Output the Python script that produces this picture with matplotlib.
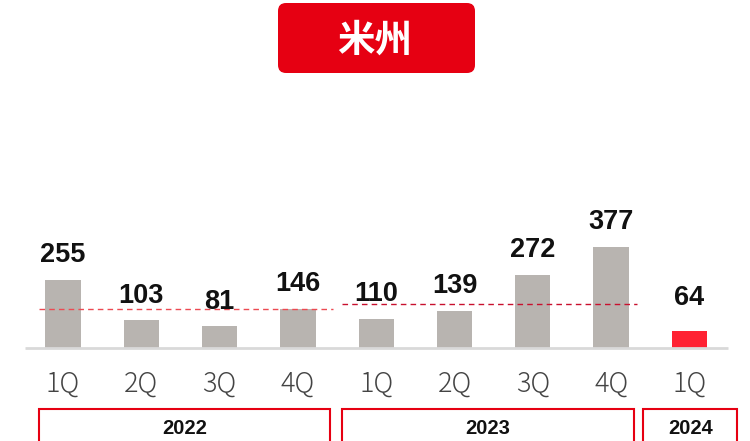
import matplotlib.pyplot as plt
from matplotlib.patches import FancyBboxPatch, Rectangle

# quarterly values, americas
quarters = ["1Q", "2Q", "3Q", "4Q", "1Q", "2Q", "3Q", "4Q", "1Q"]
values = [255, 103, 81, 146, 110, 139, 272, 377, 64]
years = ["2022", "2023", "2024"]
year_spans = [(-0.31, 3.41), (3.56, 7.29), (7.41, 8.61)]
ref_lines = [(-0.31, 3.45, 146), (3.56, 7.33, 166)]
ref_colors = ["#ec4a52", "#c8102e"]

bar_colors = ["#b8b4b0"] * 8 + ["#ff2233"]

fig = plt.figure(figsize=(7.5, 4.41), dpi=100)
ax = fig.add_axes([0, 0, 1, 1])
ax.set_xlim(-0.805, 8.774)
ax.set_ylim(-347.7, 1300.9)
ax.axis("off")

x = list(range(len(values)))
ax.bar(x, values, width=0.45, color=bar_colors, zorder=2)
ax.plot([-0.49, 8.49], [0, 0], color="#d9d9d9", lw=2, zorder=3, solid_capstyle="butt")

for (x0, x1, v), c in zip(ref_lines, ref_colors):
    ax.plot([x0, x1], [v, v], color=c, lw=1, ls=(0, (4, 3)), zorder=4)

for i, v in enumerate(values):
    off = 76 if i == len(values) - 1 else 44
    ax.text(i, v + off, str(v), ha="center", va="bottom", fontsize=19.5,
            fontweight="bold", family="Liberation Sans", color="#111111", zorder=5)
    ax.text(i, -132, quarters[i], ha="center", va="center", fontsize=19.5,
            family="Noto Sans CJK JP", fontweight="light", color="#444444")

for name, (x0, x1) in zip(years, year_spans):
    ax.add_patch(Rectangle((x0, -360), x1 - x0, 132, fill=False,
                           edgecolor="#e60012", lw=1.5, clip_on=False))
    ax.text((x0 + x1) / 2, -300, name, ha="center", va="center", fontsize=14.5,
            fontweight="bold", family="Liberation Sans", color="#111111")

# title badge
badge = FancyBboxPatch((2.78, 3.68), 1.97, 0.70,
                       boxstyle="round,pad=0,rounding_size=0.08",
                       transform=fig.dpi_scale_trans, facecolor="#e60012",
                       edgecolor="none")
fig.patches.append(badge)
fig.text(3.75 / 7.5, 1 - 40 / 441, "米州", ha="center", va="center",
         fontsize=27, fontweight="bold", color="white",
         family=["Noto Sans CJK JP", "DejaVu Sans"])

fig.savefig("out.png", dpi=100)
